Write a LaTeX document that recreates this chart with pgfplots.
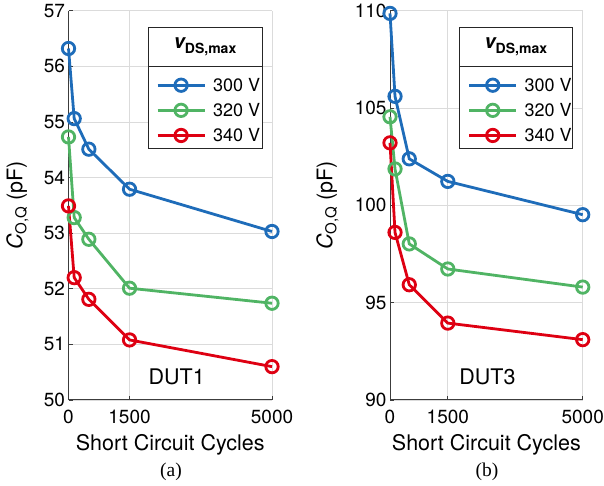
\documentclass[border=0pt]{standalone}
\usepackage{fontspec}
\setmainfont{TeX Gyre Heros}
\setsansfont{TeX Gyre Heros}
\newfontfamily\capfont{Liberation Serif}
\usepackage{pgfplots}
\pgfplotsset{compat=1.18}
\definecolor{cb}{RGB}{30,108,185}
\definecolor{cg}{RGB}{80,180,100}
\definecolor{cr}{RGB}{222,0,18}
\definecolor{axc}{RGB}{60,60,60}
\pgfplotsset{myax/.style={
  scale only axis,
  axis x line*=bottom, axis y line*=left,
  xmin=0, xmax=5000, xtick={0,1500,5000},
  grid=major, major grid style={black!14, line width=0.7pt},
  axis line style={line width=1pt, axc},
  tick style={axc, line width=0.8pt},
  tick align=inside, major tick length=4pt,
  ticklabel style={font=\fontsize{19}{21}\selectfont},
  xticklabel style={yshift=-6pt},
  /pgf/number format/assume math mode=true,
  /pgf/number format/1000 sep={},
  scaled ticks=false,
  clip=false,
  xlabel={Short Circuit Cycles},
  every axis x label/.style={at={(rel axis cs:0.5,0)}, yshift=-45pt, anchor=center, font=\fontsize{21.5}{24}\selectfont},
  ylabel={{\itshape C}\textsubscript{O,Q} (pF)},
  every axis plot/.append style={line width=2.8pt, mark=o, mark size=6.2pt, mark options={solid}},
  legend image code/.code={\draw[mark repeat=2,mark phase=2,##1, line width=2.8pt, mark size=6.2pt] plot coordinates {(0pt,0pt) (23.5pt,0pt) (47pt,0pt)};},
  legend style={draw=none, fill=none, font=\fontsize{18}{20}\selectfont, row sep=6.5pt, inner sep=0pt,
    /tikz/every odd column/.append style={column sep=5pt}},
  legend cell align=left,
}}
\newcommand{\legtitle}{\fontsize{20}{22}\selectfont\bfseries\itshape v\raisebox{-5pt}{\fontsize{14}{16}\selectfont\upshape DS,max}}
\begin{document}
\begin{tikzpicture}
\path[use as bounding box] (0pt,0pt) rectangle (604pt,486pt);
% ---------- (a) DUT1 ----------
\begin{axis}[myax, at={(68.5pt,86pt)}, anchor=south west,
  width=203.5pt, height=389.3pt,
  ymin=50, ymax=57, ytick={50,51,...,57},
  every axis y label/.style={at={(rel axis cs:0,0.5)}, xshift=-51pt, rotate=90, anchor=center, font=\fontsize{21.5}{24}\selectfont},
  legend style={at={(rel axis cs:0.43,0.833)}, anchor=north west}]
\addplot[color=cb] coordinates {(0,56.32) (140,55.06) (500,54.51) (1500,53.79) (5000,53.03)};
\addlegendentry{300 V}
\addplot[color=cg] coordinates {(0,54.73) (140,53.28) (500,52.89) (1500,52.01) (5000,51.74)};
\addlegendentry{320 V}
\addplot[color=cr] coordinates {(0,53.49) (140,52.20) (500,51.81) (1500,51.08) (5000,50.60)};
\addlegendentry{340 V}
\fill[white] (rel axis cs:0.391,0.647) rectangle (rel axis cs:0.951,0.956);
\draw[black!85, line width=0.8pt] (rel axis cs:0.391,0.647) rectangle (rel axis cs:0.951,0.956);
\draw[black!85, line width=0.8pt] (rel axis cs:0.391,0.856) -- (rel axis cs:0.951,0.856);
\node at (rel axis cs:0.671,0.906) {\legtitle};
\node[font=\fontsize{21.5}{24}\selectfont] at (rel axis cs:0.532,0.06) {DUT1};
\end{axis}
% ---------- (b) DUT3 ----------
\begin{axis}[myax, at={(390pt,86pt)}, anchor=south west,
  width=192.7pt, height=389.3pt,
  ymin=90, ymax=110, ytick={90,95,...,110},
  every axis y label/.style={at={(rel axis cs:0,0.5)}, xshift=-62.5pt, rotate=90, anchor=center, font=\fontsize{21.5}{24}\selectfont},
  legend style={at={(rel axis cs:0.403,0.833)}, anchor=north west}]
\addplot[color=cb] coordinates {(0,109.86) (130,105.60) (500,102.39) (1500,101.23) (5000,99.52)};
\addlegendentry{300 V}
\addplot[color=cg] coordinates {(0,104.55) (130,101.87) (500,98.02) (1500,96.73) (5000,95.80)};
\addlegendentry{320 V}
\addplot[color=cr] coordinates {(0,103.21) (130,98.61) (500,95.92) (1500,93.95) (5000,93.10)};
\addlegendentry{340 V}
\fill[white] (rel axis cs:0.359,0.647) rectangle (rel axis cs:0.948,0.956);
\draw[black!85, line width=0.8pt] (rel axis cs:0.359,0.647) rectangle (rel axis cs:0.948,0.956);
\draw[black!85, line width=0.8pt] (rel axis cs:0.359,0.856) -- (rel axis cs:0.948,0.856);
\node at (rel axis cs:0.653,0.906) {\legtitle};
\node[font=\fontsize{21.5}{24}\selectfont] at (rel axis cs:0.506,0.06) {DUT3};
\end{axis}
\node[font=\capfont\fontsize{19.5}{22}\selectfont] at (171pt,14pt) {(a)};
\node[font=\capfont\fontsize{19.5}{22}\selectfont] at (487pt,14pt) {(b)};
\end{tikzpicture}
\end{document}
